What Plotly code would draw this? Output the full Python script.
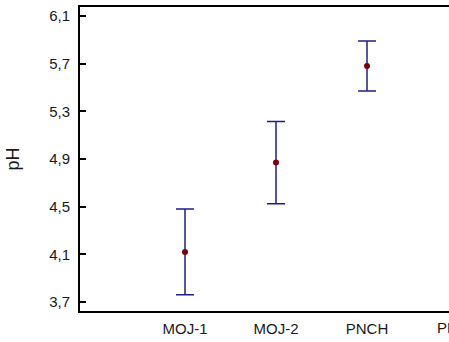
import plotly.graph_objects as go

# pH means with error bar half-widths per sample group
categories = ["MOJ-1", "MOJ-2", "PNCH", "PNCS"]
ph_mean = [4.12, 4.87, 5.68]
ph_err = [0.36, 0.345, 0.21]
y_ticks = [3.7, 4.1, 4.5, 4.9, 5.3, 5.7, 6.1]
y_tick_text = ["3,7", "4,1", "4,5", "4,9", "5,3", "5,7", "6,1"]

positions = list(range(len(categories)))
x_range = [-1.154, 2.901]
font = dict(family="Liberation Sans, Arial, sans-serif", size=15, color="#1a1a1a")

fig = go.Figure()
fig.add_trace(go.Scatter(
    x=positions[:len(ph_mean)],
    y=ph_mean,
    mode="markers",
    marker=dict(color="#7a0010", size=6),
    error_y=dict(type="data", array=ph_err, visible=True,
                 color="#1f1f8a", thickness=1.5, width=9),
    showlegend=False,
))

# label of the last group, which sits past the right edge of the plot;
# placed in paper units since it lies outside the x range
last_x = (positions[3] - x_range[0]) / (x_range[1] - x_range[0])
fig.add_annotation(
    x=last_x, y=0, xref="paper", yref="paper",
    text=categories[3], showarrow=False,
    xanchor="center", yanchor="top", yshift=-6,
    font=font,
)

fig.update_layout(
    width=449, height=342,
    margin=dict(l=80, r=0, t=7, b=31),
    plot_bgcolor="white", paper_bgcolor="white",
    font=font,
    xaxis=dict(
        range=x_range,
        tickvals=positions[:3], ticktext=categories[:3],
        showline=True, mirror=True, linecolor="#000", linewidth=1.8,
        showgrid=False, zeroline=False, ticks="", ticklabelstandoff=3,
    ),
    yaxis=dict(
        range=[3.6245, 6.1755],
        tickvals=y_ticks, ticktext=y_tick_text,
        showline=True, mirror=False, linecolor="#000", linewidth=1.8,
        showgrid=False, zeroline=False,
        ticks="inside", ticklen=6, tickwidth=1.5, tickcolor="#000",
        ticklabelstandoff=5,
        title=dict(text="pH", standoff=25),
    ),
)

fig.write_html("out.html")
